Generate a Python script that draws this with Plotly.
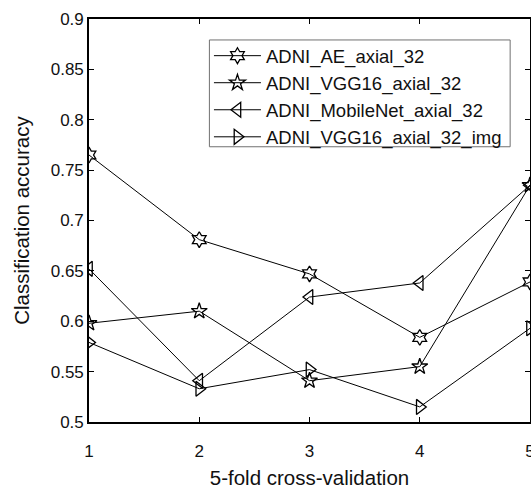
import plotly.graph_objects as go

folds = [1, 2, 3, 4, 5]
ae_axial = [0.765, 0.681, 0.647, 0.584, 0.639]
vgg16_axial = [0.598, 0.610, 0.541, 0.555, 0.735]
mobilenet_axial = [0.652, 0.541, 0.624, 0.638, 0.735]
vgg16_axial_img = [0.579, 0.533, 0.552, 0.515, 0.593]

series_names = ["ADNI_AE_axial_32", "ADNI_VGG16_axial_32",
                "ADNI_MobileNet_axial_32", "ADNI_VGG16_axial_32_img"]
y_tickvals = [0.5, 0.55, 0.6, 0.65, 0.7, 0.75, 0.8, 0.85, 0.9]
y_ticktext = ["0.5", "0.55", "0.6", "0.65", "0.7", "0.75", "0.8", "0.85", "0.9"]
x_tickvals = [1, 2, 3, 4, 5]
x_ticktext = ["1", "2", "3", "4", "5"]

symbols = ["hexagram-open", "star-open", "triangle-left-open", "triangle-right-open"]
sizes = [12, 12, 13, 13]
data = [ae_axial, vgg16_axial, mobilenet_axial, vgg16_axial_img]

fig = go.Figure()
for name, vals, sym, sz in zip(series_names, data, symbols, sizes):
    fig.add_trace(go.Scatter(
        x=folds, y=vals, name=name, mode="lines+markers",
        line=dict(color="black", width=1),
        marker=dict(symbol=sym, size=sz, color="black",
                    line=dict(color="black", width=1.3)),
    ))

font_family = "Liberation Sans, Arial, sans-serif"
fig.update_layout(
    width=533, height=489,
    margin=dict(l=89, r=1, t=19, b=67),
    paper_bgcolor="white", plot_bgcolor="white",
    font=dict(family=font_family, color="#111111", size=17),
    showlegend=True,
    legend=dict(
        x=0.272, y=0.955, xanchor="left", yanchor="top",
        bgcolor="rgba(0,0,0,0)", borderwidth=0,
        font=dict(size=18.5, family=font_family, color="#111111"),
        itemwidth=47, tracegroupgap=0,
    ),
    shapes=[dict(
        type="rect", xref="paper", yref="paper",
        x0=0.273, x1=0.955, y0=0.683, y1=0.948,
        line=dict(color="#707070", width=1), fillcolor="white", layer="below",
    )],
    xaxis=dict(
        range=[1, 5], tickvals=x_tickvals, ticktext=x_ticktext,
        ticks="inside", ticklen=5, tickwidth=1, tickcolor="black",
        showline=True, linecolor="black", linewidth=1.6, mirror="ticks",
        showgrid=False, zeroline=False, ticklabeloverflow="allow",
        ticklabelstandoff=13, automargin=False,
        tickfont=dict(size=17),
        title=dict(text="5-fold cross-validation", font=dict(size=20.5), standoff=16),
    ),
    yaxis=dict(
        range=[0.5, 0.9], tickvals=y_tickvals, ticktext=y_ticktext,
        ticks="inside", ticklen=5, tickwidth=1, tickcolor="black",
        showline=True, linecolor="black", linewidth=1.6, mirror="ticks",
        showgrid=False, zeroline=False,
        tickfont=dict(size=17),
        title=dict(text="Classification accuracy", font=dict(size=20.5), standoff=16),
    ),
)

fig.write_html(
    "out.html",
    config={"displayModeBar": False},
    post_script="document.body.style.margin='0px';document.body.style.overflow='hidden';",
)
